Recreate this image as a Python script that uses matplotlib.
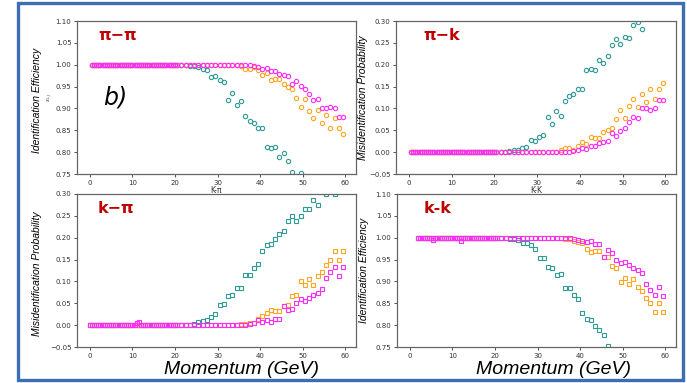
# PID efficiency / misidentification panels (pi-pi, pi-k, k-pi, k-k)
import matplotlib.pyplot as plt
import matplotlib.patches as patches
import numpy as np

# momentum bins: fine bins below 20 GeV, 1 GeV bins above
p_fine = np.arange(0.5, 20.01, 0.5)
p_fine_kpi = np.arange(0.0, 20.01, 0.5)
p_fine_kk = np.arange(2.0, 20.01, 0.5)
p_coarse = np.arange(20.5, 60.0, 1.0)

# pi-pi identification efficiency (above 20 GeV)
pp_teal = [1.0, 1.0, 1.0, 0.998, 0.996, 0.995, 0.99, 0.988, 0.972, 0.975,
           0.965, 0.96, 0.92, 0.935, 0.907, 0.918, 0.883, 0.872, 0.867, 0.855,
           0.855, 0.812, 0.81, 0.812, 0.79, 0.797, 0.78, 0.755, 0.742, 0.752,
           0.736, 0.74, 0.71, 0.703, 0.718, 0.69, 0.68, 0.67, 0.66, 0.65]
pp_orange = [1.0, 1.0, 1.0, 1.0, 1.0, 1.0, 1.0, 1.0, 1.0, 1.0,
             1.0, 1.0, 1.0, 1.0, 0.999, 0.996, 0.991, 0.99, 0.994, 0.987,
             0.976, 0.981, 0.965, 0.968, 0.967, 0.955, 0.95, 0.944, 0.925, 0.903,
             0.922, 0.895, 0.878, 0.896, 0.867, 0.886, 0.855, 0.878, 0.855, 0.842]
pp_magenta = [1.0, 1.0, 1.0, 1.0, 1.0, 1.0, 1.0, 1.0, 1.0, 1.0,
              1.0, 1.0, 1.0, 1.0, 1.0, 1.0, 1.0, 1.0, 0.998, 0.995,
              0.99, 0.992, 0.985, 0.985, 0.978, 0.977, 0.975, 0.957, 0.962, 0.951,
              0.945, 0.932, 0.92, 0.922, 0.9, 0.9, 0.903, 0.9, 0.881, 0.88]

# pi-k misidentification probability
pk_teal = [0.0, 0.0, 0.0, 0.002, 0.004, 0.005, 0.01, 0.012, 0.028, 0.025,
           0.035, 0.04, 0.08, 0.065, 0.093, 0.082, 0.117, 0.128, 0.133, 0.145,
           0.145, 0.188, 0.19, 0.188, 0.21, 0.203, 0.22, 0.245, 0.258, 0.248,
           0.264, 0.26, 0.29, 0.297, 0.282, 0.31, 0.32, 0.33, 0.34, 0.35]
pk_orange = [0.0, 0.0, 0.0, 0.0, 0.0, 0.0, 0.0, 0.0, 0.0, 0.0,
             0.0, 0.0, 0.0, 0.0, 0.001, 0.004, 0.009, 0.01, 0.006, 0.013,
             0.024, 0.019, 0.035, 0.032, 0.033, 0.045, 0.05, 0.056, 0.075, 0.097,
             0.078, 0.105, 0.122, 0.104, 0.133, 0.114, 0.145, 0.122, 0.145, 0.158]
pk_magenta = [0.0, 0.0, 0.0, 0.0, 0.0, 0.0, 0.0, 0.0, 0.0, 0.0,
              0.0, 0.0, 0.0, 0.0, 0.0, 0.0, 0.0, 0.0, 0.002, 0.005,
              0.01, 0.008, 0.015, 0.015, 0.022, 0.023, 0.025, 0.043, 0.038, 0.049,
              0.055, 0.068, 0.08, 0.078, 0.1, 0.1, 0.097, 0.1, 0.119, 0.12]

# k-pi misidentification probability
kp_teal = [0.0, 0.0, 0.0005, 0.001, 0.002, 0.008, 0.01, 0.011, 0.018, 0.026,
           0.045, 0.048, 0.067, 0.069, 0.086, 0.085, 0.115, 0.115, 0.13, 0.14,
           0.17, 0.184, 0.186, 0.197, 0.208, 0.215, 0.239, 0.25, 0.239, 0.25,
           0.266, 0.266, 0.287, 0.275, 0.31, 0.301, 0.32, 0.301, 0.33, 0.34]
kp_orange = [0.0, 0.0, 0.0, 0.0, 0.0, 0.0, 0.0, 0.0, 0.0, 0.0,
             0.0, 0.0, 0.0, 0.0, 0.0, 0.002, 0.003, 0.004, 0.006, 0.014,
             0.02, 0.027, 0.035, 0.032, 0.033, 0.044, 0.047, 0.066, 0.069, 0.102,
             0.092, 0.105, 0.092, 0.112, 0.122, 0.138, 0.15, 0.17, 0.15, 0.17]
kp_magenta = [0.0, 0.0, 0.0, 0.0, 0.0, 0.0, 0.0, 0.0, 0.0, 0.0,
              0.0, 0.0, 0.0, 0.0, 0.0, 0.0, 0.0, 0.002, 0.006, 0.011,
              0.008, 0.012, 0.008, 0.015, 0.015, 0.044, 0.034, 0.038, 0.05, 0.059,
              0.055, 0.062, 0.07, 0.074, 0.082, 0.108, 0.122, 0.133, 0.113, 0.133]
kp_magenta_fine = [0.0] * 22 + [0.004, 0.007] + [0.0] * 17

# k-k identification efficiency
kk_teal = [1.0, 0.999, 0.999, 0.998, 0.997, 0.994, 0.989, 0.988, 0.983, 0.975,
           0.954, 0.953, 0.932, 0.931, 0.914, 0.916, 0.885, 0.885, 0.869, 0.86,
           0.828, 0.815, 0.812, 0.799, 0.789, 0.777, 0.753, 0.735, 0.73, 0.72,
           0.71, 0.705, 0.69, 0.685, 0.67, 0.66, 0.65, 0.64, 0.63, 0.62]
kk_orange = [1.0, 1.0, 1.0, 1.0, 1.0, 1.0, 1.0, 1.0, 1.0, 1.0,
             1.0, 1.0, 1.0, 1.0, 1.0, 1.0, 0.998, 0.996, 0.993, 0.99,
             0.987, 0.974, 0.967, 0.969, 0.969, 0.956, 0.957, 0.935, 0.931, 0.898,
             0.908, 0.895, 0.906, 0.887, 0.879, 0.863, 0.85, 0.83, 0.85, 0.829]
kk_magenta = [1.0, 1.0, 1.0, 1.0, 1.0, 1.0, 1.0, 1.0, 1.0, 1.0,
              1.0, 1.0, 1.0, 1.0, 1.0, 1.0, 1.0, 1.0, 0.997, 0.994,
              0.992, 0.99, 0.993, 0.986, 0.986, 0.957, 0.971, 0.966, 0.948, 0.942,
              0.945, 0.938, 0.93, 0.927, 0.919, 0.894, 0.88, 0.869, 0.888, 0.866]
kk_magenta_fine = [1.0] * 7 + [0.995] + [1.0] * 12 + [0.992] + [1.0] * 16

teal = '#2f9a96'
orange = '#ffa521'
magenta = '#ff2bff'
tag_color = '#c00000'

W, H = 687, 383
fig = plt.figure(figsize=(W / 100, H / 100), dpi=100)


def make_axes(x0, x1, y0, y1):
    return fig.add_axes([x0 / W, 1 - y1 / H, (x1 - x0) / W, (y1 - y0) / H])


ax_pp = make_axes(77, 356, 21, 174)
ax_pk = make_axes(396, 676, 21, 174)
ax_kp = make_axes(77, 356, 194, 347)
ax_kk = make_axes(397, 676, 194, 347)


def draw(ax, xf, yf, ys, marker):
    # yf: fine-bin values per colour, ys: coarse-bin values per colour
    for col, fine, coarse in zip([teal, orange, magenta], yf, ys):
        x = np.concatenate([xf, p_coarse])
        y = np.concatenate([fine, coarse])
        ax.plot(x, y, marker, linestyle='none', mfc='none', mec=col,
                ms=3.1, mew=0.8)


draw(ax_pp, p_fine, [[1.0] * 40] * 3, [pp_teal, pp_orange, pp_magenta], 'o')
draw(ax_pk, p_fine, [[0.0] * 40] * 3, [pk_teal, pk_orange, pk_magenta], 'o')
draw(ax_kp, p_fine_kpi, [[0.0] * 41, [0.0] * 41, kp_magenta_fine],
     [kp_teal, kp_orange, kp_magenta], 's')
draw(ax_kk, p_fine_kk, [[1.0] * 37, [1.0] * 37, kk_magenta_fine],
     [kk_teal, kk_orange, kk_magenta], 's')

eff_ticks = [0.75, 0.80, 0.85, 0.90, 0.95, 1.00, 1.05, 1.10]
mis_ticks = [-0.05, 0.00, 0.05, 0.10, 0.15, 0.20, 0.25, 0.30]

for ax, ticks in [(ax_pp, eff_ticks), (ax_pk, mis_ticks), (ax_kp, mis_ticks), (ax_kk, eff_ticks)]:
    ax.set_xlim(-3, 62.5)
    ax.set_ylim(ticks[0], ticks[-1])
    ax.set_xticks([0, 10, 20, 30, 40, 50, 60])
    ax.set_yticks(ticks)
    ax.set_yticklabels(['%.2f' % t if t >= 0 else '\u22120.05' for t in ticks])
    ax.tick_params(labelsize=5, length=2.5, width=0.6, pad=1.5, colors='#333333')
    for s in ax.spines.values():
        s.set_color('#666666')
        s.set_linewidth(0.9)

lab = dict(fontsize=7.5, style='italic', family='Liberation Sans')
ax_pp.set_ylabel('Identification Efficiency', **lab)
ax_pp.yaxis.set_label_coords(-0.125, 0.48)
ax_pk.set_ylabel('Misidentification Probability', **lab)
ax_pk.yaxis.set_label_coords(-0.10, 0.5)
ax_kp.set_ylabel('Misidentification Probability', **lab)
ax_kp.yaxis.set_label_coords(-0.125, 0.48)
ax_kk.set_ylabel('Identification Efficiency', **lab)
ax_kk.yaxis.set_label_coords(-0.10, 0.5)

fig.text(50 / W, 1 - 97 / H, r'$\varepsilon_{i,j}$', fontsize=4.5, rotation=90,
         ha='center', va='center', color='#444444')

# panel tags
tag = dict(fontsize=11.5, fontweight='bold', color=tag_color, ha='left', va='top')
ax_pp.text(0.075, 0.955, '\u03c0\u2212\u03c0', transform=ax_pp.transAxes, **tag)
ax_pk.text(0.096, 0.955, '\u03c0\u2212k', transform=ax_pk.transAxes, **tag)
ax_kp.text(0.075, 0.955, 'k\u2212\u03c0', transform=ax_kp.transAxes, **tag)
ax_kk.text(0.096, 0.955, 'k-k', transform=ax_kk.transAxes, **tag)

ax_pp.text(0.136, 0.50, 'b)', fontsize=17, style='italic', ha='center', va='center',
           transform=ax_pp.transAxes)

# small x labels of the top row
ax_pp.text(0.50, -0.105, 'K-\u03c0', fontsize=5.5, ha='center', va='center',
           transform=ax_pp.transAxes, color='#333333')
ax_pk.text(0.50, -0.105, 'K-K', fontsize=5.5, ha='center', va='center',
           transform=ax_pk.transAxes, color='#333333')

# big momentum labels of the bottom row
mom = dict(fontsize=14, style='italic', family='Liberation Sans', ha='center', va='center')
fig.text(242 / W, 1 - 369 / H, 'Momentum (GeV)', **mom)
fig.text(554 / W, 1 - 369 / H, 'Momentum (GeV)', **mom)

# blue frame round the whole figure
frame = patches.Rectangle((18 / W, 3 / H), 665 / W, 377 / H, transform=fig.transFigure,
                          fill=False, edgecolor='#3d6db5', linewidth=2.4)
fig.patches.append(frame)

fig.savefig('out.png', dpi=100)
